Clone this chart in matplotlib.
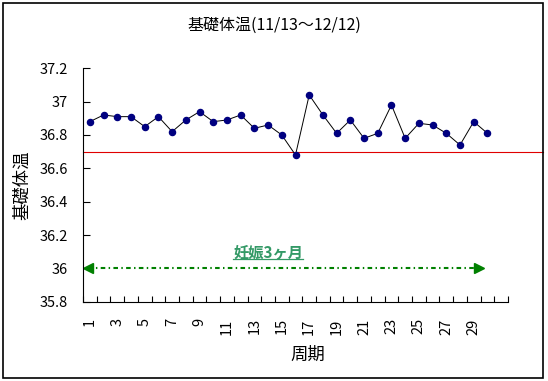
import numpy as np
import matplotlib
matplotlib.use('Agg')
import matplotlib.pyplot as plt
import matplotlib.transforms as mtransforms
from matplotlib.lines import Line2D

plt.rcParams['font.family'] = ['Noto Sans CJK JP', 'DejaVu Sans']

# 基礎体温データ
days = np.arange(1, 31)
temps = [36.88, 36.92, 36.91, 36.91, 36.85, 36.91, 36.82, 36.89, 36.94, 36.88,
         36.89, 36.92, 36.84, 36.86, 36.80, 36.68, 37.04, 36.92, 36.81, 36.89,
         36.78, 36.81, 36.98, 36.78, 36.87, 36.86, 36.81, 36.74, 36.88, 36.81]
n_cats = 31
xtick_labels = [str(i) for i in range(1, 30, 2)]
yticks = [35.8, 36.0, 36.2, 36.4, 36.6, 36.8, 37.0, 37.2]
ytick_labels = ['35.8', '36', '36.2', '36.4', '36.6', '36.8', '37', '37.2']
ref_temp = 36.7
arrow_y = 36.0
arrow_span = (0.85, 29.4)
arrow_text = '妊娠3ヶ月'

fig = plt.figure(figsize=(5.48, 3.81), dpi=100)
ax = fig.add_axes([83 / 548, 1 - 301.7 / 381, 425 / 548, 233.4 / 381])

ax.plot(days, temps, color='black', lw=0.7, marker='o', ms=4.4,
        mfc='#000080', mec='#000080', zorder=3)

ax.set_xlim(0.5, n_cats + 0.5)
ax.set_ylim(35.8, 37.2)
ax.set_yticks(yticks)
ax.set_yticklabels(ytick_labels)
ax.set_xticks(np.arange(0.5, n_cats + 1, 1), minor=True)
ax.set_xticks(range(1, 30, 2))
ax.set_xticklabels(xtick_labels, rotation=90, va='top', ha='center')
ax.tick_params(axis='x', which='major', length=0, pad=12, labelsize=10.5)
ax.tick_params(axis='x', which='minor', direction='in', length=4, width=0.8)
ax.tick_params(axis='y', direction='in', length=5, width=0.8, pad=11, labelsize=10.5)
for s in ['top', 'right']:
    ax.spines[s].set_visible(False)
for s in ['left', 'bottom']:
    ax.spines[s].set_linewidth(0.8)

# 基準線 (枠まで伸びる)
trans = mtransforms.blended_transform_factory(fig.transFigure, ax.transData)
ax.add_line(Line2D([83 / 548, 543 / 548], [ref_temp, ref_temp], transform=trans,
                   color='#e00000', lw=0.8, clip_on=False, zorder=2))

# 矢印
ax.plot(arrow_span, [arrow_y, arrow_y], color='#008000', lw=1.5,
        dashes=(2.2, 1.6, 0.7, 1.6), zorder=2)
ax.plot(arrow_span[0], arrow_y, marker='<', color='#008000', ms=7, zorder=2)
ax.plot(arrow_span[1], arrow_y, marker='>', color='#008000', ms=7, zorder=2)
t = ax.text(14.0, 36.1, arrow_text, color='#339966', fontsize=11,
            fontweight='bold', ha='center', va='center')

fig.text(0.5, 1 - 25 / 381, '基礎体温(11/13～12/12)', ha='center', va='center',
         fontsize=11.5)
fig.text(22 / 548, 1 - 185 / 381, '基礎体温', rotation=90, ha='center',
         va='center', fontsize=12.5)
fig.text(308 / 548, 1 - 355 / 381, '周期', ha='center', va='center', fontsize=12.5)

fig.add_artist(plt.Rectangle((3 / 548, 3 / 381), 540 / 548, 375 / 381,
                             transform=fig.transFigure, fill=False,
                             edgecolor='black', lw=1.2))

# 下線
fig.canvas.draw()
bb = t.get_window_extent()
fig.add_artist(Line2D([bb.x0 / 548, bb.x1 / 548], [(bb.y0 + 1) / 381] * 2,
                      transform=fig.transFigure, color='#339966', lw=0.9))

fig.savefig('out.png', dpi=100)
